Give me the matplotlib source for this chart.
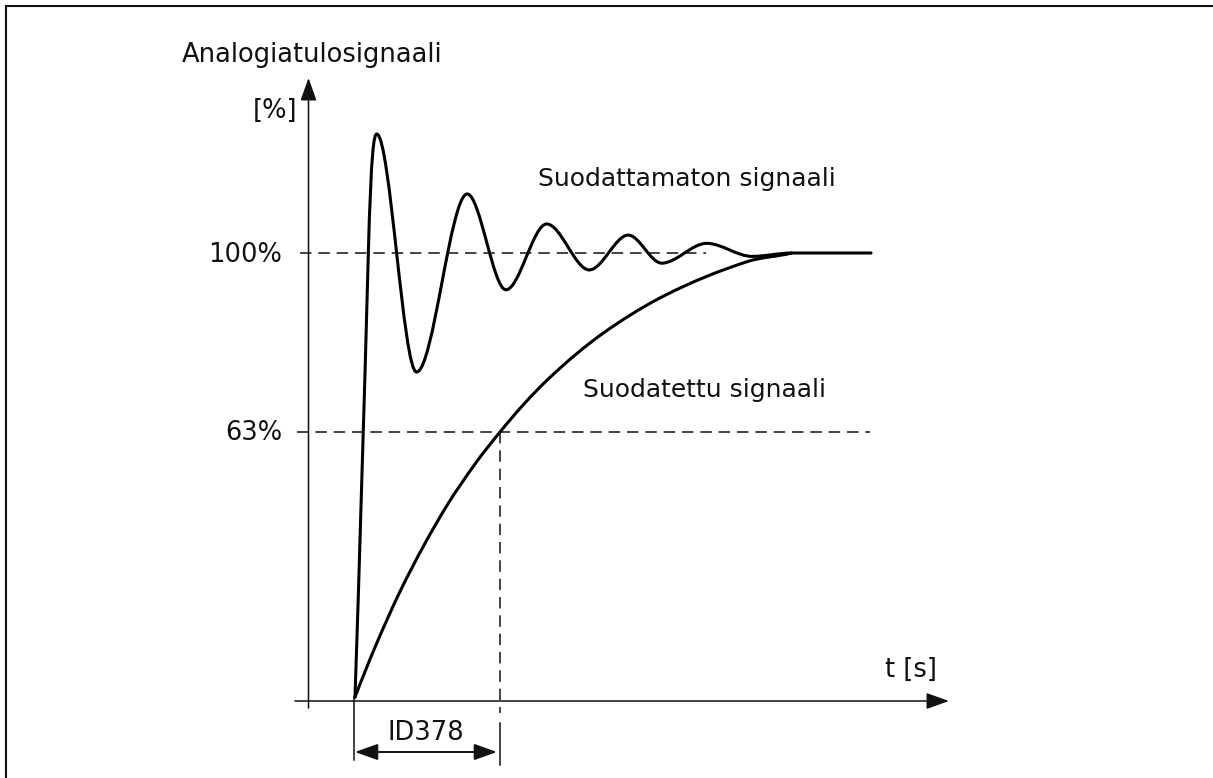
import matplotlib
matplotlib.use("Agg")
import matplotlib.pyplot as plt
from matplotlib.path import Path
from matplotlib.patches import PathPatch
from matplotlib.lines import Line2D

# time in units of the filter time constant (ID378), signal in %
raw_t = [0.0, 0.092, 0.150, 0.424, 0.774, 1.041, 1.322, 1.616, 1.885, 2.115, 2.426, 2.738, 3.012]
raw_v = [8.2, 100.0, 124.6, 75.4, 112.2, 92.4, 106.0, 96.5, 103.7, 97.9, 102.0, 99.3, 100.0]
raw_slope = [900, 1100, 0, 0, 0, 0, 0, 0, 0, 0, 0, 0, 0]
raw_end_t = 3.559

filt_t = [0.0, 0.138, 0.310, 0.483, 0.634, 0.828, 1.0, 1.324, 1.724, 2.090, 2.428, 2.703, 3.012]
filt_v = [8.2, 18.5, 30.0, 40.0, 47.8, 56.4, 63.0, 73.7, 83.7, 90.5, 95.2, 98.2, 100.0]
filt_slope = [78.7, 70.8, 62.1, 54.4, 48.6, 41.9, 36.8, 28.6, 21.1, 15.9, 12.3, 10.0, 7.9]

level_full = 100
level_tau = 63
tau = 1.0

W, H = 1213, 778
X0, PX_T = 355, 145      # pixel of t=0, pixels per time constant
Y100, PX_V = 253, 4.838  # pixel of 100 %, pixels per percent


def at(xp, yp):
    return (xp - X0) / PX_T, 100 - (yp - Y100) / PX_V


def hermite_path(t, v, m):
    verts = [(t[0], v[0])]
    codes = [Path.MOVETO]
    for i in range(len(t) - 1):
        h = t[i + 1] - t[i]
        verts += [(t[i] + h / 3, v[i] + m[i] * h / 3),
                  (t[i + 1] - h / 3, v[i + 1] - m[i + 1] * h / 3),
                  (t[i + 1], v[i + 1])]
        codes += [Path.CURVE4] * 3
    return verts, codes


fig = plt.figure(figsize=(W / 100, H / 100), dpi=100)
ax = fig.add_axes([0, 0, 1, 1])
ax.axis("off")
ax.set_xlim(at(0, 0)[0], at(W, 0)[0])
ax.set_ylim(at(0, H)[1], at(0, 0)[1])

ink = "#111111"
lw_curve = 2.2
dash = (0, (7.5, 4.5))

# frame
fig.add_artist(Line2D([6 / W, 1], [1 - 6 / H, 1 - 6 / H], transform=fig.transFigure, color=ink, lw=1.5))
fig.add_artist(Line2D([6 / W, 6 / W], [0, 1 - 6 / H], transform=fig.transFigure, color=ink, lw=1.5))

# axes arrows
head = "-|>,head_length=0.7,head_width=0.25"
ax.annotate("", xy=at(308.5, 78), xytext=at(308.5, 708),
            arrowprops=dict(arrowstyle=head, mutation_scale=20, lw=1.1, color=ink, shrinkA=0, shrinkB=0))
ax.annotate("", xy=at(949, 701), xytext=at(295, 701),
            arrowprops=dict(arrowstyle=head, mutation_scale=20, lw=1.1, color=ink, shrinkA=0, shrinkB=0))

# reference levels
ax.plot([at(300, 0)[0], at(706, 0)[0]], [level_full, level_full], color=ink, lw=1.1, ls=dash)
ax.plot([at(297, 0)[0], at(870, 0)[0]], [level_tau, level_tau], color=ink, lw=1.1, ls=dash)
ax.plot([tau, tau], [level_tau, at(0, 713)[1]], color=ink, lw=1.1, ls=dash)
ax.plot([tau, tau], [at(0, 723)[1], at(0, 765)[1]], color=ink, lw=1.1)
ax.plot([at(354, 0)[0]] * 2, [at(0, 697)[1], at(0, 760)[1]], color=ink, lw=1.1)

# time constant dimension arrow
ax.annotate("", xy=at(497, 752), xytext=at(355, 752),
            arrowprops=dict(arrowstyle="<|-|>,head_length=0.7,head_width=0.25", mutation_scale=20,
                            lw=1.4, color=ink, shrinkA=0, shrinkB=0))

# unfiltered signal
verts, codes = hermite_path(raw_t, raw_v, raw_slope)
verts.append((raw_end_t, raw_v[-1]))
codes.append(Path.LINETO)
ax.add_patch(PathPatch(Path(verts, codes), fill=False, ec="black", lw=lw_curve, capstyle="round", joinstyle="round"))

# filtered signal
verts, codes = hermite_path(filt_t, filt_v, filt_slope)
ax.add_patch(PathPatch(Path(verts, codes), fill=False, ec="black", lw=lw_curve, capstyle="round", joinstyle="round"))

fs = 18.5
ax.text(*at(182, 62), "Analogiatulosignaali", fontsize=fs, color=ink, ha="left", va="baseline")
ax.text(*at(297, 118), "[%]", fontsize=fs, color=ink, ha="right", va="baseline")
ax.text(*at(282, 262), "100%", fontsize=fs, color=ink, ha="right", va="baseline")
ax.text(*at(282, 440), "63%", fontsize=fs, color=ink, ha="right", va="baseline")
ax.text(*at(538, 186), "Suodattamaton signaali", fontsize=18, color=ink, ha="left", va="baseline")
ax.text(*at(583, 397), "Suodatettu signaali", fontsize=18, color=ink, ha="left", va="baseline")
ax.text(*at(885, 677), "t [s]", fontsize=fs, color=ink, ha="left", va="baseline")
ax.text(*at(426, 740), "ID378", fontsize=fs, color=ink, ha="center", va="baseline")

fig.savefig("out.png", dpi=100)
